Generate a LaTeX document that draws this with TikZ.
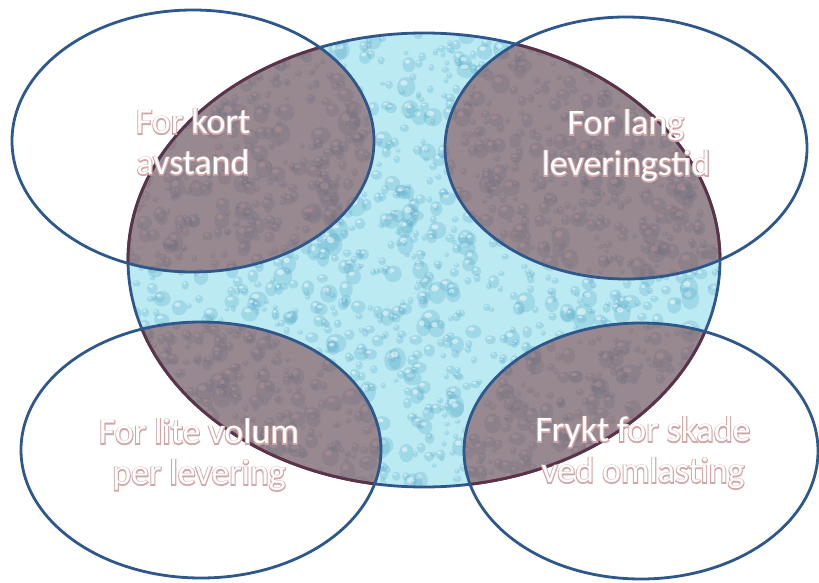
\documentclass[tikz,border=0pt]{standalone}
\usepackage{fontspec}
\setmainfont{Carlito}
\definecolor{edgeblue}{RGB}{46,88,140}
\definecolor{edgemaroon}{RGB}{92,50,72}
\definecolor{watera}{RGB}{188,234,242}
\definecolor{dropdark}{RGB}{95,175,205}
\definecolor{ovcol}{RGB}{128,72,78}
\definecolor{olc}{RGB}{210,165,165}
\newcommand\strk{\special{pdf:code 2 Tr 2 w 0.82 0.65 0.65 RG}}
\newcommand\nostrk{\special{pdf:code 0 Tr}}
\begin{document}
\begin{tikzpicture}[x=1bp,y=-1bp,
  lbl/.style={font=\fontsize{36}{41}\selectfont, align=center, inner sep=0pt, text=white},
  lblo/.style={lbl, text=olc},
  rim/.style={draw=edgeblue, line width=2.8bp},
  inrim/.style={draw=edgemaroon, line width=2.8bp}]
\useasboundingbox[fill=white] (0,0) rectangle (819,583);
\def\central{(424,260) ellipse [x radius=296, y radius=227]}
\def\eTL{(193,141) ellipse [x radius=181, y radius=131]}
\def\eTR{(626,148) ellipse [x radius=181, y radius=131]}
\def\eBL{(201,450) ellipse [x radius=180, y radius=128]}
\def\eBR{(641,451) ellipse [x radius=177, y radius=128]}
% central water ellipse
\fill[watera] \central;
\begin{scope}
  \clip \central;
  \pgfmathsetseed{42}
  \foreach \i in {1,...,1900}{
    \pgfmathsetmacro\px{128+592*rnd}
    \pgfmathsetmacro\py{33+454*rnd}
    \pgfmathsetmacro\rr{2.5+9*rnd*rnd}
    \pgfmathsetmacro\ry{\rr*(0.75+0.55*rnd)}
    \pgfmathsetmacro\hx{\px-0.25*\rr}
    \pgfmathsetmacro\hy{\py-0.4*\ry}
    \pgfmathsetmacro\hr{0.4*\rr}
    \pgfmathsetmacro\hry{0.28*\ry}
    \fill[dropdark, opacity=0.3] (\px,\py) ellipse [x radius=\rr, y radius=\ry];
    \fill[white, opacity=0.5] (\hx,\hy) ellipse [x radius=\hr, y radius=\hry];
  }
\end{scope}
\draw[rim] \central;
% overlaps
\begin{scope}
  \clip \central;
  \fill[ovcol, opacity=0.6] \eTL;
  \fill[ovcol, opacity=0.6] \eTR;
  \fill[ovcol, opacity=0.6] \eBL;
  \fill[ovcol, opacity=0.6] \eBR;
\end{scope}
\begin{scope}\clip \eTL; \draw[inrim] \central;\end{scope}
\begin{scope}\clip \eTR; \draw[inrim] \central;\end{scope}
\begin{scope}\clip \eBL; \draw[inrim] \central;\end{scope}
\begin{scope}\clip \eBR; \draw[inrim] \central;\end{scope}
% outer ellipses
\draw[rim] \eTL;
\draw[rim] \eTR;
\draw[rim] \eBL;
\draw[rim] \eBR;
% label outlines
\node[lblo] (oTL) at (193,142) {\strk For kort\\avstand};
\node[lblo] (oTR) at (626,146) {\strk For lang\\leveringstid};
\node[lblo] (oBL) at (199,455) {\strk For lite volum\\per levering};
\node[lblo] (oBR) at (643,453) {\strk Frykt for skade\\ved omlasting};
% labels
\node[lbl] (tTL) at (193,142) {\nostrk For kort\\avstand};
\node[lbl] (tTR) at (626,146) {\nostrk For lang\\leveringstid};
\node[lbl] (tBL) at (199,455) {\nostrk For lite volum\\per levering};
\node[lbl] (tBR) at (643,453) {\nostrk Frykt for skade\\ved omlasting};
\end{tikzpicture}
\end{document}
